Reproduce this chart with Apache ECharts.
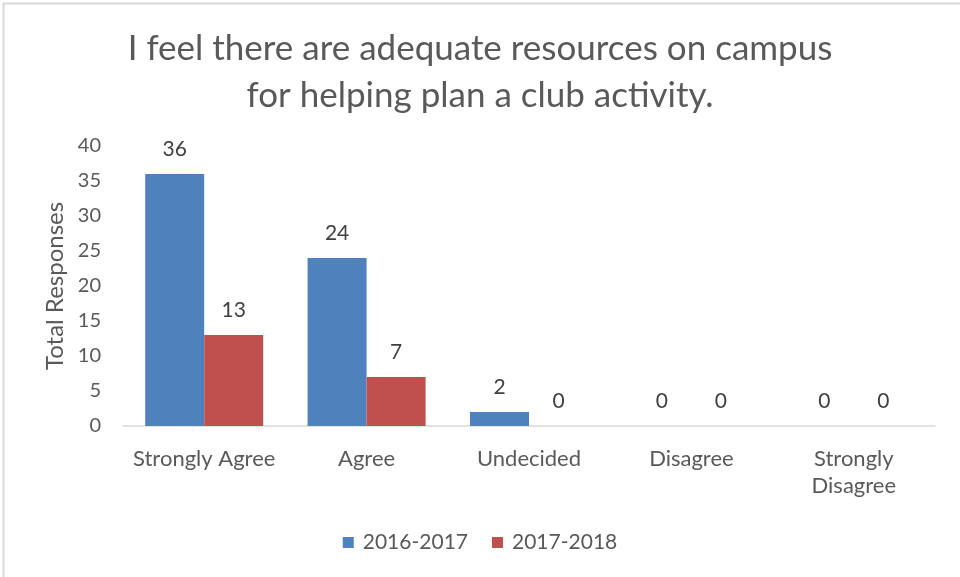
<!DOCTYPE html>
<html>
<head>
<meta charset="utf-8">
<style>
  html, body { margin: 0; padding: 0; background: #fff; }
  #chart { width: 960px; height: 577px; }
</style>
<script src="https://cdn.jsdelivr.net/npm/echarts@6/dist/echarts.min.js"></script>
</head>
<body>
<div id="chart"></div>
<script>
// Survey responses per answer, two school years
const categories = ['Strongly Agree', 'Agree', 'Undecided', 'Disagree', 'Strongly\nDisagree'];
const seriesNames = ['2016-2017', '2017-2018'];
const values2016 = [36, 24, 2, 0, 0];
const values2017 = [13, 7, 0, 0, 0];
const yTicks = { min: 0, max: 40, interval: 5 };

const FONT = 'Lato, "Open Sans", sans-serif';
const chart = echarts.init(document.getElementById('chart'));

const labelStyle = {
  show: true,
  position: 'top',
  distance: 14,
  color: '#404040',
  fontSize: 21,
  fontFamily: FONT
};

chart.setOption({
  animation: false,
  backgroundColor: '#fff',
  graphic: [{
    type: 'rect',
    shape: { x: 3.5, y: 3.5, width: 1000, height: 1000 },
    style: { fill: 'none', stroke: '#d9d9d9', lineWidth: 2 },
    silent: true
  }],
  title: {
    text: 'I feel there are adequate resources on campus\nfor helping plan a club activity.',
    left: 'center',
    top: 20,
    textStyle: {
      color: '#595959',
      fontSize: 35,
      fontWeight: 'normal',
      fontFamily: FONT,
      lineHeight: 47
    }
  },
  legend: {
    bottom: 19,
    left: 'center',
    itemWidth: 11,
    itemHeight: 11,
    itemGap: 24,
    icon: 'rect',
    textStyle: { color: '#595959', fontSize: 21, fontFamily: FONT, padding: [0, 0, 0, 4] },
    data: seriesNames
  },
  grid: { left: 123, right: 25, top: 146, bottom: 151, containLabel: false },
  xAxis: {
    type: 'category',
    data: categories,
    axisLine: { lineStyle: { color: '#d9d9d9', width: 1.5 } },
    axisTick: { show: false },
    axisLabel: {
      color: '#595959',
      fontSize: 22,
      fontFamily: FONT,
      margin: 19,
      lineHeight: 27,
      interval: 0
    }
  },
  yAxis: {
    type: 'value',
    min: yTicks.min,
    max: yTicks.max,
    interval: yTicks.interval,
    name: 'Total Responses',
    nameLocation: 'middle',
    nameGap: 54,
    nameTextStyle: { color: '#595959', fontSize: 24, fontFamily: FONT },
    axisLine: { show: false },
    axisTick: { show: false },
    splitLine: { show: false },
    axisLabel: { color: '#595959', fontSize: 20, fontFamily: FONT, margin: 22 }
  },
  series: [
    {
      name: seriesNames[0],
      type: 'bar',
      data: values2016,
      barWidth: 59,
      barGap: '0%',
      itemStyle: { color: '#4F81BD' },
      label: labelStyle
    },
    {
      name: seriesNames[1],
      type: 'bar',
      data: values2017,
      barWidth: 59,
      barGap: '0%',
      itemStyle: { color: '#C0504D' },
      label: labelStyle
    }
  ]
});
</script>
</body>
</html>
